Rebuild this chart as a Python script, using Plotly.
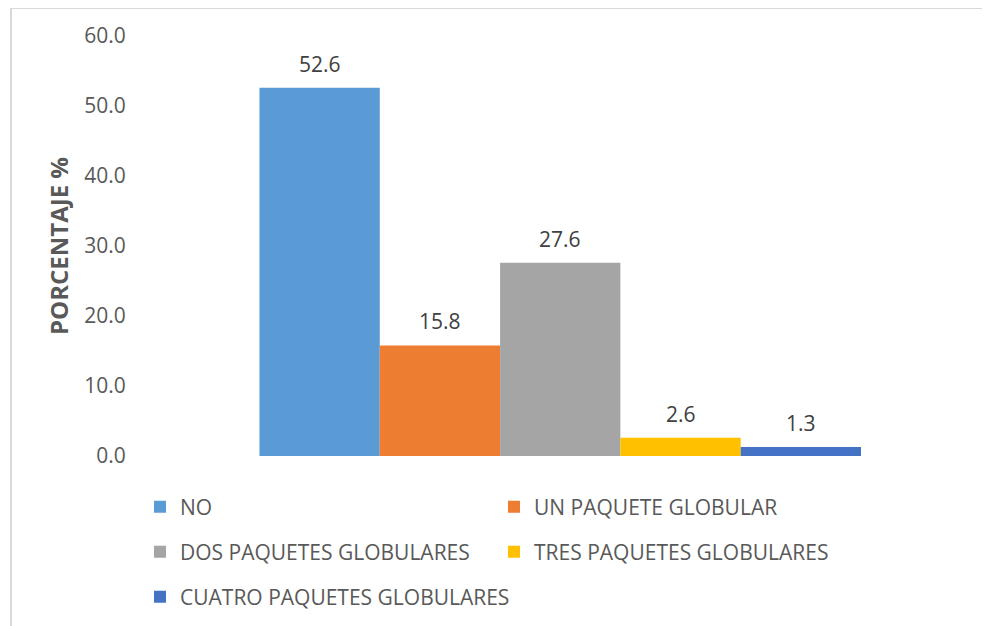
import plotly.graph_objects as go

# data
categories = ["NO", "UN PAQUETE GLOBULAR", "DOS PAQUETES GLOBULARES",
              "TRES PAQUETES GLOBULARES", "CUATRO PAQUETES GLOBULARES"]
values = [52.6, 15.8, 27.6, 2.6, 1.3]
colors = ["#5B9BD5", "#ED7D31", "#A5A5A5", "#FFC000", "#4472C4"]
y_ticks = [0, 10, 20, 30, 40, 50, 60]

# the page body adds an 8px margin, so the figure is sized/offset to compensate
OFF = 8
W, H = 990 - OFF, 626 - OFF
L, R, T, B = 137 - OFF, 7, 36 - OFF, 170
pw, ph = W - L - R, H - T - B


def px_x(px):
    return (px - OFF - L) / pw


def px_y(py):
    return (H - B - (py - OFF)) / ph


# legend placement (screen px): column, row
leg_pos = [(140, 507), (494, 507), (140, 552), (494, 552), (140, 597)]
leg_names = ["legend", "legend2", "legend3", "legend4", "legend5"]

fig = go.Figure()

for i, (cat, val, col) in enumerate(zip(categories, values, colors)):
    fig.add_trace(go.Bar(
        x=[i], y=[val], width=1,
        name=cat,
        marker=dict(color=col, line=dict(width=0)),
        legend=leg_names[i],
        hoverinfo="name+y",
    ))
    fig.add_annotation(
        x=i, y=val, text=f"{val:.1f}", showarrow=False,
        yanchor="middle", yshift=24,
        font=dict(size=21, color="#404040", family="Open Sans"),
    )

legends = {}
for name, (lx, ly) in zip(leg_names, leg_pos):
    legends[name] = dict(
        x=px_x(lx), y=px_y(ly), xanchor="left", yanchor="middle",
        orientation="h", bgcolor="rgba(0,0,0,0)",
        font=dict(size=21, color="#595959", family="Open Sans"),
    )

fig.update_layout(
    width=W, height=H,
    margin=dict(l=L, r=R, t=T, b=B),
    paper_bgcolor="white",
    plot_bgcolor="white",
    barmode="overlay",
    showlegend=True,
    font=dict(family="Open Sans", color="#595959"),
    **legends,
)

# chart-area border (only top and left edges are visible in the crop)
fig.add_shape(type="line", xref="paper", yref="paper",
              x0=px_x(11), x1=px_x(11), y0=px_y(8), y1=-0.6,
              line=dict(color="#D9D9D9", width=2))
fig.add_shape(type="line", xref="paper", yref="paper",
              x0=px_x(11), x1=1.2, y0=px_y(8), y1=px_y(8),
              line=dict(color="#D9D9D9", width=2))

fig.update_xaxes(range=[-1.518, 5.514], showticklabels=False, showgrid=False,
                 zeroline=False, showline=False, ticks="")
fig.update_yaxes(range=[0, 60], tickvals=y_ticks, tickformat=".1f",
                 showgrid=False, zeroline=False, showline=False,
                 ticks="outside", ticklen=6, tickcolor="rgba(0,0,0,0)",
                 tickfont=dict(size=21, color="#595959", family="Open Sans"),
                 title=dict(text="<b>PORCENTAJE %</b>", standoff=8,
                            font=dict(size=24, color="#595959", family="Open Sans")))

fig.write_html("out.html")
